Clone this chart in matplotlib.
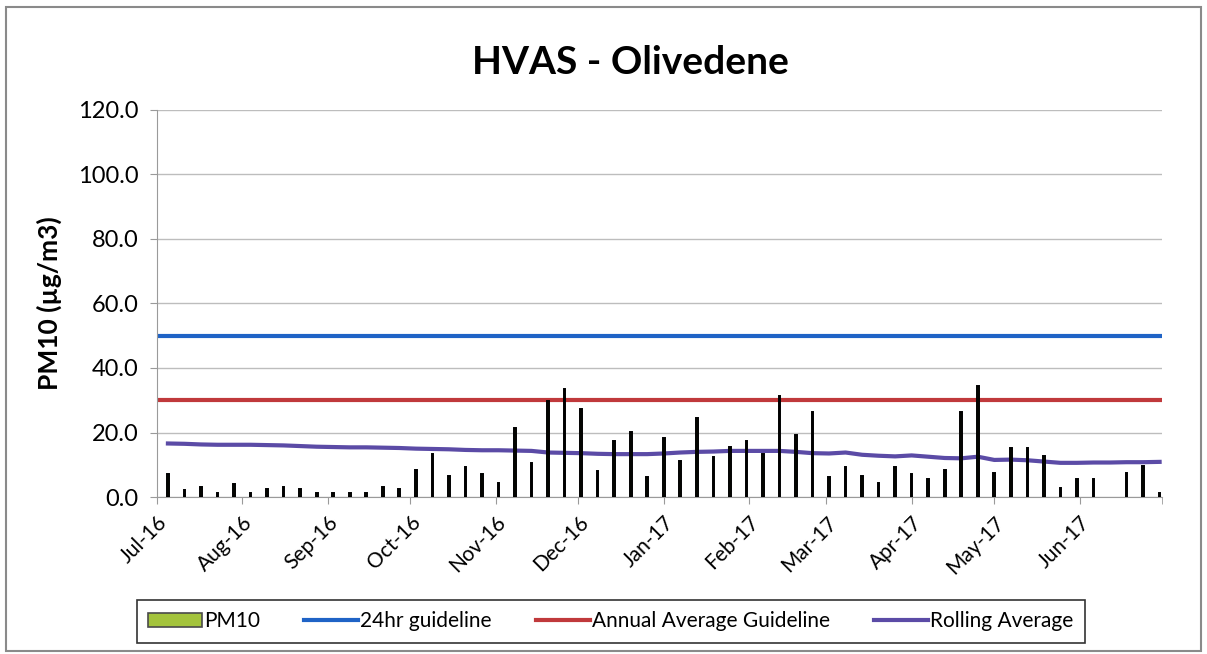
import numpy as np
import pandas as pd
import matplotlib
matplotlib.use("Agg")
import matplotlib.pyplot as plt
import matplotlib.dates as mdates
from matplotlib.patches import Rectangle, Patch

plt.rcParams['font.family'] = ['Lato', 'DejaVu Sans']

# HVAS sample every 6 days, Jul-16 to Jun-17
sample_start = "2016-07-05"
pm10 = [7.0, 2.2, 3.2, 1.3, 3.9, 1.1, 2.4, 3.2, 2.4, 1.1,
        1.3, 1.1, 1.1, 3.2, 2.5, 8.4, 13.3, 6.5, 9.4, 7.1,
        4.2, 21.3, 10.4, 29.9, 33.4, 27.2, 8.2, 17.4, 20.3, 6.3,
        18.2, 11.2, 24.4, 12.3, 15.4, 17.4, 13.3, 31.3, 19.2, 26.3,
        6.3, 9.2, 6.5, 4.2, 9.4, 7.1, 5.5, 8.4, 26.3, 34.4,
        7.3, 15.3, 15.3, 12.7, 2.7, 5.5, 5.5, np.nan, 7.3, 9.6, 1.3]
rolling = [16.6, 16.5, 16.3, 16.2, 16.2, 16.2, 16.1, 16.0, 15.8, 15.6,
           15.5, 15.4, 15.4, 15.3, 15.2, 15.0, 14.9, 14.8, 14.6, 14.5,
           14.5, 14.4, 14.3, 13.8, 13.7, 13.6, 13.4, 13.3, 13.3, 13.3,
           13.5, 13.8, 14.0, 14.1, 14.3, 14.3, 14.3, 14.3, 14.0, 13.6,
           13.5, 13.8, 13.1, 12.8, 12.6, 12.9, 12.5, 12.1, 12.0, 12.5,
           11.5, 11.6, 11.4, 11.0, 10.6, 10.6, 10.7, 10.7, 10.8, 10.8, 10.9]
guideline_24hr = 50.0
guideline_annual = 30.0
axis_start = "2016-07-01"
axis_end = "2017-07-01"

dates = pd.date_range(sample_start, periods=len(pm10), freq="6D")
x0, x1 = pd.Timestamp(axis_start), pd.Timestamp(axis_end)

fig = plt.figure(figsize=(12.07, 6.54), dpi=100)
ax = fig.add_axes([0.130, 0.240, 0.833, 0.592])

ax.bar(dates, pm10, width=0.6, color="#A4C43C", edgecolor="black", linewidth=1.4,
       label="PM10", zorder=3)
l24, = ax.plot([x0, x1], [guideline_24hr] * 2, color="#1F63C6", lw=3,
               label="24hr guideline", zorder=2)
lann, = ax.plot([x0, x1], [guideline_annual] * 2, color="#C0393B", lw=3,
                label="Annual Average Guideline", zorder=2)
lroll, = ax.plot(dates, rolling, color="#5B4BA6", lw=3, label="Rolling Average", zorder=2)

ax.set_xlim(x0, x1)
ax.set_ylim(0, 120)
ax.set_yticks(np.arange(0, 121, 20))
ax.yaxis.set_major_formatter(plt.FuncFormatter(lambda v, p: f"{v:.1f}"))
ax.grid(axis="y", color="#BDBDBD", lw=1)
ax.set_axisbelow(True)

months = pd.date_range(axis_start, periods=12, freq="MS")
ax.set_xticks(months)
ax.set_xticklabels([m.strftime("%b-%y") for m in months], rotation=45,
                   ha="right", rotation_mode="anchor", fontsize=15)
ax.xaxis.set_minor_locator(mdates.DayLocator(bymonthday=1))
ax.tick_params(axis="x", which="both", length=5, color="#9A9A9A", pad=6)
ax.tick_params(axis="y", length=5, color="#9A9A9A", labelsize=17, pad=8)

for s in ["top", "right"]:
    ax.spines[s].set_visible(False)
for s in ["left", "bottom"]:
    ax.spines[s].set_color("#9A9A9A")

ax.set_ylabel("PM10 (µg/m3)", fontsize=19, fontweight="bold", labelpad=12)
fig.text(0.522, 0.905, "HVAS - Olivedene", ha="center", va="center",
         fontsize=28, fontweight="bold")

# legend patch drawn with the same green as the bars
pm_handle = Patch(facecolor="#A4C43C", edgecolor="#4A4A4A", lw=1.2, label="PM10")
leg = fig.legend(handles=[pm_handle, l24, lann, lroll], loc="center",
                 bbox_to_anchor=(0.506, 0.050), ncol=4, fontsize=15,
                 frameon=True, fancybox=False, edgecolor="black",
                 handlelength=2.6, handletextpad=0.1, columnspacing=2.1,
                 borderpad=0.55)
leg.get_frame().set_linewidth(1.2)

fig.patches.append(Rectangle((0.005, 0.005), 0.99, 0.985, transform=fig.transFigure,
                             fill=False, edgecolor="#8A8A8A", lw=1.5))

fig.savefig("out.png", dpi=100)
